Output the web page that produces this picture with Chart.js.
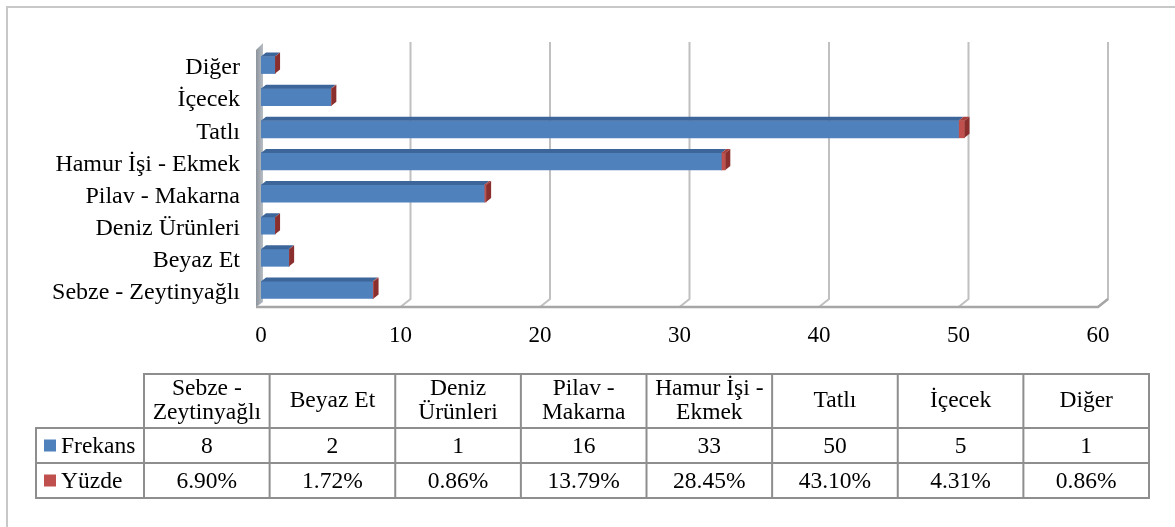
<!DOCTYPE html>
<html lang="tr">
	<head>
		<meta charset="utf-8" />
		<script src="https://cdn.jsdelivr.net/npm/chart.js@4.4.1/dist/chart.umd.min.js"></script>
		<style>
			html, body { margin: 0; padding: 0; background: #fff; }
			#wrap { width: 1175px; height: 527px; position: relative; }
		</style>
	</head>

	<body>
		<div id="wrap"><canvas id="myChart"></canvas></div>
	</body>
	<script>
		// data, in table order (bottom to top on the chart)
		const categories = [
			"Sebze - Zeytinyağlı",
			"Beyaz Et",
			"Deniz Ürünleri",
			"Pilav - Makarna",
			"Hamur İşi - Ekmek",
			"Tatlı",
			"İçecek",
			"Diğer"
		];
		const frekans = [8, 2, 1, 16, 33, 50, 5, 1];
		const yuzde = [0.069, 0.0172, 0.0086, 0.1379, 0.2845, 0.431, 0.0431, 0.0086];
		const xTicks = [0, 10, 20, 30, 40, 50, 60];
		const seriesNames = ["Frekans", "Yüzde"];

		const FONT = '"Liberation Serif", "Times New Roman", serif';
		const BLUE = "#4F81BD";
		const RED = "#C0504D";

		// fake 3d: back wall, gridlines, floor, bar tops and ends
		const depth3d = {
			id: "depth3d",
			beforeDatasetsDraw(chart) {
				const ctx = chart.ctx;
				const xs = chart.scales.x;
				const floorY = 307, backBottom = 299, backTop = 42;
				ctx.save();
				// grid lines on back wall
				ctx.strokeStyle = "#C0C0C0";
				ctx.lineWidth = 2;
				xTicks.slice(1).forEach(v => {
					const x = xs.getPixelForValue(v);
					ctx.beginPath();
					ctx.moveTo(x + 10, backTop);
					ctx.lineTo(x + 10, backBottom);
					ctx.lineTo(x, floorY);
					ctx.stroke();
				});
				// left wall
				const left = xs.getPixelForValue(0);
				const g = ctx.createLinearGradient(left - 6, 0, left + 2, 0);
				g.addColorStop(0, "#868D96");
				g.addColorStop(1, "#B9BEC5");
				ctx.fillStyle = g;
				ctx.beginPath();
				ctx.moveTo(left - 5, 50);
				ctx.lineTo(left + 2, 43);
				ctx.lineTo(left + 2, 302);
				ctx.lineTo(left - 5, floorY);
				ctx.closePath();
				ctx.fill();
				// floor
				const right = xs.getPixelForValue(60);
				ctx.strokeStyle = "#A6A6A6";
				ctx.lineWidth = 2.5;
				ctx.beginPath();
				ctx.moveTo(left - 5, floorY);
				ctx.lineTo(right, floorY);
				ctx.lineTo(right + 10, backBottom);
				ctx.stroke();
				ctx.restore();
			},
			afterDatasetsDraw(chart) {
				const ctx = chart.ctx;
				const D = 5, E = 4;
				const blueBars = chart.getDatasetMeta(0).data;
				const redBars = chart.getDatasetMeta(1).data;
				ctx.save();
				blueBars.forEach((b, i) => {
					const r = redBars[i];
					const top = b.y - b.height / 2;
					const bottom = b.y + b.height / 2;
					// top of blue part
					ctx.fillStyle = "#3C659A";
					ctx.beginPath();
					ctx.moveTo(b.base, top);
					ctx.lineTo(b.base + D, top - E);
					ctx.lineTo(b.x + D, top - E);
					ctx.lineTo(b.x, top);
					ctx.closePath();
					ctx.fill();
					// top of red part
					ctx.fillStyle = "#A8413E";
					ctx.beginPath();
					ctx.moveTo(r.base, top);
					ctx.lineTo(r.base + D, top - E);
					ctx.lineTo(r.x + D, top - E);
					ctx.lineTo(r.x, top);
					ctx.closePath();
					ctx.fill();
					// end face
					ctx.fillStyle = "#8A2F2D";
					ctx.beginPath();
					ctx.moveTo(r.x, top);
					ctx.lineTo(r.x + D, top - E);
					ctx.lineTo(r.x + D, bottom - E);
					ctx.lineTo(r.x, bottom);
					ctx.closePath();
					ctx.fill();
				});
				ctx.restore();
			}
		};

		function wrapText(ctx, text, maxW) {
			const words = text.split(" ");
			const lines = [];
			let line = "";
			words.forEach(w => {
				const test = line ? line + " " + w : w;
				if (line && ctx.measureText(test).width > maxW) {
					lines.push(line);
					line = w;
				} else {
					line = test;
				}
			});
			lines.push(line);
			return lines;
		}

		// data table under the chart
		const dataTable = {
			id: "dataTable",
			afterDraw(chart) {
				const ctx = chart.ctx;
				const tLeft = 36, c0 = 144, tRight = 1149;
				const colW = (tRight - c0) / categories.length;
				const yTop = 374, yHead = 428, yRow1 = 463, yRow2 = 498;
				ctx.save();

				// outer frame of the chart (only top/left visible)
				ctx.strokeStyle = "#C8C8C8";
				ctx.lineWidth = 2;
				ctx.beginPath();
				ctx.moveTo(7, 527);
				ctx.lineTo(7, 7);
				ctx.lineTo(1175, 7);
				ctx.stroke();

				ctx.strokeStyle = "#8E8E8E";
				ctx.lineWidth = 2;
				ctx.strokeRect(c0, yTop, tRight - c0, yHead - yTop);
				ctx.strokeRect(tLeft, yHead, tRight - tLeft, yRow2 - yHead);
				ctx.beginPath();
				ctx.moveTo(tLeft, yRow1);
				ctx.lineTo(tRight, yRow1);
				for (let i = 0; i < categories.length; i++) {
					const x = c0 + i * colW;
					ctx.moveTo(x, yTop);
					ctx.lineTo(x, yRow2);
				}
				ctx.stroke();

				ctx.fillStyle = "#000";
				ctx.font = "23.5px " + FONT;
				ctx.textBaseline = "middle";
				ctx.textAlign = "center";
				categories.forEach((c, i) => {
					const cx = c0 + (i + 0.5) * colW;
					const lines = wrapText(ctx, c, colW - 8);
					const lh = 24;
					const start = (yTop + yHead) / 2 - ((lines.length - 1) * lh) / 2;
					lines.forEach((l, k) => ctx.fillText(l, cx, start + k * lh));
					ctx.fillText(String(frekans[i]), cx, (yHead + yRow1) / 2 + 1);
					ctx.fillText((yuzde[i] * 100).toFixed(2) + "%", cx, (yRow1 + yRow2) / 2 + 1);
				});

				// legend keys
				ctx.textAlign = "left";
				[[BLUE, (yHead + yRow1) / 2], [RED, (yRow1 + yRow2) / 2]].forEach((k, i) => {
					ctx.fillStyle = k[0];
					ctx.fillRect(44, k[1] - 6, 12, 12);
					ctx.fillStyle = "#000";
					ctx.fillText(seriesNames[i], 61, k[1] + 1);
				});
				ctx.restore();
			}
		};

		const ctx = document.getElementById("myChart").getContext("2d");
		const myChart = new Chart(ctx, {
			type: "bar",
			data: {
				labels: categories,
				datasets: [
					{
						label: seriesNames[0],
						data: frekans,
						backgroundColor: BLUE,
						barThickness: 17
					},
					{
						label: seriesNames[1],
						data: yuzde,
						backgroundColor: RED,
						barThickness: 17
					}
				]
			},
			options: {
				indexAxis: "y",
				responsive: true,
				maintainAspectRatio: false,
				animation: false,
				layout: { padding: { left: 0, right: 77, top: 49, bottom: 181 } },
				plugins: {
					legend: { display: false },
					tooltip: { enabled: false }
				},
				scales: {
					x: {
						stacked: true,
						min: 0,
						max: 60,
						afterFit: s => { s.height = 40; },
						grid: { display: false, drawTicks: false },
						border: { display: false },
						ticks: {
							stepSize: 10,
							padding: 16,
							color: "#000",
							font: { family: FONT, size: 23 }
						}
					},
					y: {
						stacked: true,
						reverse: true,
						afterFit: s => { s.width = 261; },
						grid: { display: false, drawTicks: false },
						border: { display: false },
						ticks: {
							padding: 21,
							labelOffset: 3,
							color: "#000",
							font: { family: FONT, size: 24 }
						}
					}
				}
			},
			plugins: [depth3d, dataTable]
		});
	</script>
</html>
